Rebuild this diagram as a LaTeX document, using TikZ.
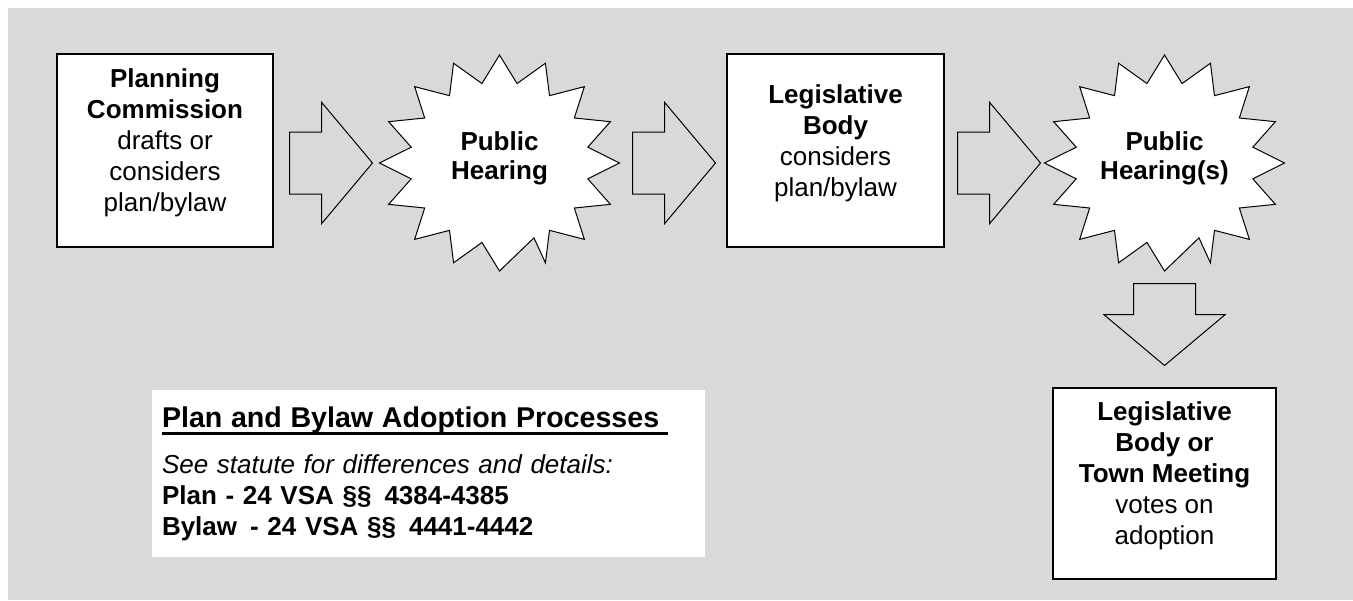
\documentclass[tikz,border=0pt]{standalone}
\usepackage{fontspec}
\setmainfont{Liberation Sans}
\usetikzlibrary{shapes.arrows}
\definecolor{bggray}{HTML}{D9D9D9}
\newcommand\ulinetitle[1]{\leavevmode\setbox0\hbox{#1}\rlap{\rule[-4pt]{\wd0}{1.4pt}}\box0}
\tikzset{
  stepbox/.style={rectangle, draw, line width=0.8pt, fill=white, align=center,
    font=\fontsize{13}{15.5}\selectfont, text depth=10pt},
  blockarrow/.style={single arrow, draw, line width=0.5pt, inner xsep=0pt, inner ysep=15.25pt,
    single arrow head extend=14.75pt, single arrow tip angle=100, minimum width=0pt,
    minimum height=41.5pt, anchor=tail},
  burstlabel/.style={align=center, font=\fontsize{13}{14.5}\selectfont\bfseries, text depth=7.7pt},
  burst/.pic={
    \draw[line width=0.5pt, fill=white, line join=miter] (90:120 and 108)
      \foreach \k in {0,...,14}{ -- ({101.25+22.5*\k}:90 and 81) -- ({112.5+22.5*\k}:120 and 108)}
      -- (427.5:90 and 81) -- cycle;
  }
}
\begin{document}
\begin{tikzpicture}[x=0.5pt, y=-0.5pt]
  % fond
  \useasboundingbox (0,0) rectangle (1353,600);
  \fill[white] (0,0) rectangle (1353,600);
  \fill[bggray] (8,8) rectangle (1353,600);

  % etapes
  \node[stepbox, minimum width=108pt, minimum height=96.5pt] (commission) at (165,150.5)
    {\textbf{Planning}\\\textbf{Commission}\\drafts or\\considers\\plan/bylaw};
  \pic at (499.5,163) {burst};
  \node[burstlabel] (hearingA) at (499.5,163) {Public\\Hearing};
  \node[stepbox, minimum width=108.5pt, minimum height=96.5pt] (legbody) at (835.5,150.5)
    {\textbf{Legislative}\\\textbf{Body}\\considers\\plan/bylaw};
  \pic at (1164.5,163) {burst};
  \node[burstlabel] (hearingB) at (1164.5,163) {Public\\Hearing(s)};
  \node[stepbox, minimum width=111.5pt, minimum height=95.5pt] (vote) at (1164.5,483.5)
    {\textbf{Legislative}\\\textbf{Body or}\\\textbf{Town Meeting}\\votes on\\adoption};

  % fleches
  \node[blockarrow] (arrA) at (289,163) {};
  \node[blockarrow] (arrB) at (632,163) {};
  \node[blockarrow] (arrC) at (957,163) {};
  \node[blockarrow, shape border rotate=270, inner xsep=15.25pt, inner ysep=0pt,
        minimum height=41pt] (arrD) at (1164.5,283) {};

  % legende
  \node[rectangle, fill=white, minimum width=276.5pt, minimum height=83.5pt, inner xsep=5pt,
        inner ysep=0pt, text width=266.5pt, align=left, font=\fontsize{13}{15.5}\selectfont]
        (legend) at (428.5,473.5)
    {{\fontsize{14.3}{15.5}\selectfont\bfseries\ulinetitle{Plan and Bylaw Adoption Processes\ }}\\[7.5pt]
     \textit{See statute for differences and details:}\\
     \textbf{Plan - 24 VSA §§~\,4384-4385}\\
     \textbf{Bylaw\,\ - 24 VSA §§~\,4441-4442}};
\end{tikzpicture}
\end{document}
